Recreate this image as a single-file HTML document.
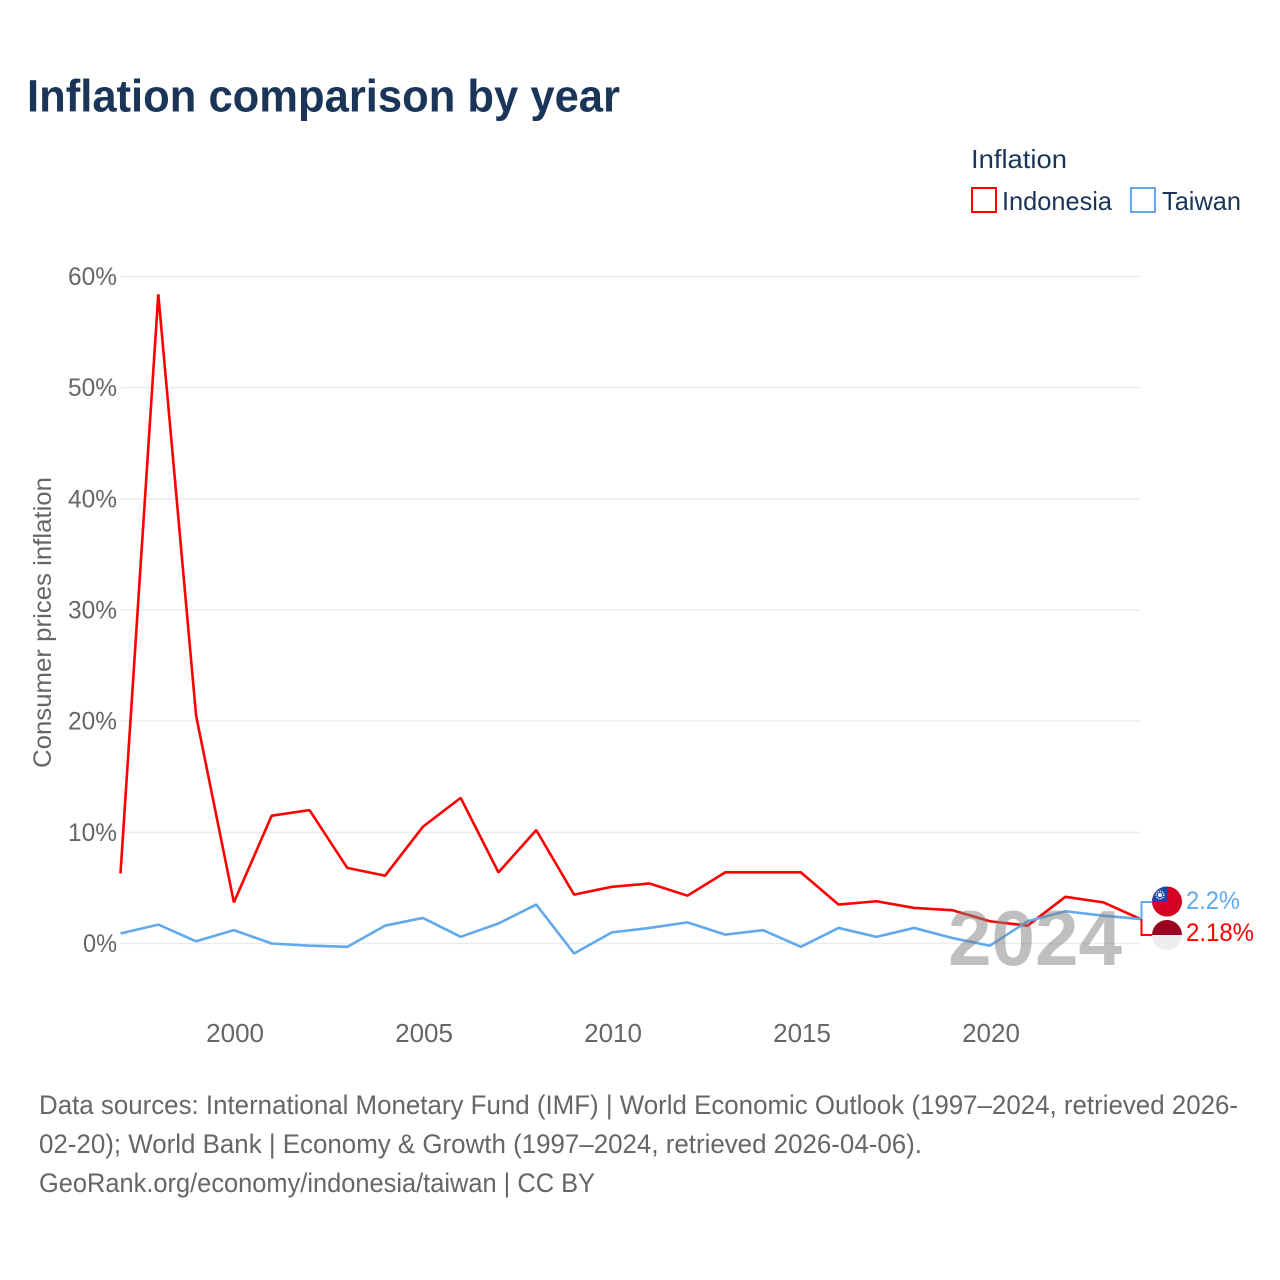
<!DOCTYPE html>
<html lang="en">
<head>
<meta charset="utf-8">
<title>Inflation comparison by year</title>
<style>
html,body{margin:0;padding:0;background:#fff;width:1280px;height:1280px;overflow:hidden}
svg{display:block}
text{font-family:"Liberation Sans",sans-serif}
</style>
</head>
<body>
<svg id="chart" width="1280" height="1280" viewBox="0 0 1280 1280" xmlns="http://www.w3.org/2000/svg">
  <defs>
    <clipPath id="clip-tw"><circle cx="1167" cy="901.5" r="15"/></clipPath>
    <clipPath id="clip-id"><circle cx="1167" cy="935" r="15"/></clipPath>
  </defs>
  <rect x="0" y="0" width="1280" height="1280" fill="#fff"/>
  <text x="27" y="111.5" font-size="45" font-weight="700" fill="#1a3557" textLength="593" lengthAdjust="spacingAndGlyphs">Inflation comparison by year</text>

  <g>
    <text x="971" y="168" font-size="26" fill="#1a3557" textLength="96" lengthAdjust="spacingAndGlyphs">Inflation</text>
    <rect x="972" y="188" width="24" height="24" fill="none" stroke="#ff0000" stroke-width="2"/>
    <text x="1002" y="210" font-size="26" fill="#1a3557" textLength="110" lengthAdjust="spacingAndGlyphs">Indonesia</text>
    <rect x="1131" y="188" width="24" height="24" fill="none" stroke="#62a9ec" stroke-width="2"/>
    <text x="1162" y="210" font-size="26" fill="#1a3557" textLength="79" lengthAdjust="spacingAndGlyphs">Taiwan</text>
  </g>

  <text transform="translate(51,768) rotate(-90)" x="0" y="0" font-size="25" fill="#666" textLength="291" lengthAdjust="spacingAndGlyphs">Consumer prices inflation</text>

  <g id="grid"></g>
  <g id="yticks"></g>
  <g id="xticks"></g>
  <g id="series"></g>

  <text x="948" y="965" font-size="78" font-weight="700" fill="#808080" fill-opacity="0.5" textLength="174" lengthAdjust="spacingAndGlyphs">2024</text>

  <g>
    <polyline points="1141.5,919 1141.5,902 1152,902" fill="none" stroke="#62a9ec" stroke-width="2"/>
    <polyline points="1141.5,919 1141.5,935 1152,935" fill="none" stroke="#ff0000" stroke-width="2"/>
  </g>

  <g clip-path="url(#clip-tw)">
    <rect x="1152" y="886" width="30" height="31" fill="#d50023"/>
    <rect x="1152" y="886" width="15.5" height="16" fill="#1a4aa8"/>
    <circle cx="1160" cy="895" r="3.8" fill="none" stroke="#fff" stroke-width="1.4" stroke-dasharray="1.2 1"/>
    <circle cx="1160" cy="895" r="2" fill="#fff"/>
  </g>
  <g clip-path="url(#clip-id)">
    <rect x="1152" y="920" width="30" height="15" fill="#9c0020"/>
    <rect x="1152" y="935" width="30" height="15" fill="#eeeeee"/>
  </g>

  <text x="1186" y="909" font-size="25" fill="#62a9ec" textLength="54" lengthAdjust="spacingAndGlyphs">2.2%</text>
  <text x="1186" y="941" font-size="25" fill="#ff0000" textLength="68" lengthAdjust="spacingAndGlyphs">2.18%</text>

  <g font-size="27" fill="#666">
    <text x="39" y="1114" textLength="1199" lengthAdjust="spacingAndGlyphs">Data sources: International Monetary Fund (IMF) | World Economic Outlook (1997–2024, retrieved 2026-</text>
    <text x="39" y="1153" textLength="883" lengthAdjust="spacingAndGlyphs">02-20); World Bank | Economy &amp; Growth (1997–2024, retrieved 2026-04-06).</text>
    <text x="39" y="1192" textLength="556" lengthAdjust="spacingAndGlyphs">GeoRank.org/economy/indonesia/taiwan | CC BY</text>
  </g>
</svg>
<script>
const years = [1997,1998,1999,2000,2001,2002,2003,2004,2005,2006,2007,2008,2009,2010,2011,2012,2013,2014,2015,2016,2017,2018,2019,2020,2021,2022,2023,2024];
const indonesia = [6.3,58.4,20.5,3.7,11.5,12.0,6.8,6.1,10.5,13.1,6.4,10.2,4.4,5.1,5.4,4.3,6.4,6.4,6.4,3.5,3.8,3.2,3.0,2.0,1.6,4.2,3.7,2.18];
const taiwan = [0.9,1.7,0.2,1.2,0.0,-0.2,-0.3,1.6,2.3,0.6,1.8,3.5,-0.9,1.0,1.4,1.9,0.8,1.2,-0.3,1.4,0.6,1.4,0.5,-0.2,2.0,2.9,2.5,2.2];
const yTickValues = [0,10,20,30,40,50,60];
const yTickLabels = ['0%','10%','20%','30%','40%','50%','60%'];
const xTickValues = [2000,2005,2010,2015,2020];
const xTickLabels = ['2000','2005','2010','2015','2020'];

const NS = 'http://www.w3.org/2000/svg';
function xScale(year){ return 120.5 + (year - 1997) * (1141 - 120.5) / 27; }
function yScale(v){ return 943.5 - v * (943.5 - 276.5) / 60; }
function make(tag, attrs, parent){
  const el = document.createElementNS(NS, tag);
  for (const k in attrs) el.setAttribute(k, attrs[k]);
  parent.appendChild(el);
  return el;
}
const grid = document.getElementById('grid');
const yticks = document.getElementById('yticks');
const xticks = document.getElementById('xticks');
const series = document.getElementById('series');

yTickValues.forEach(function(v, i){
  const line = make('line', {x1:120.5, x2:1141, y1:yScale(v), y2:yScale(v), stroke:'#ececec', 'stroke-width':1.5}, grid);
  
  
  const label = make('text', {x:117, y:yScale(v)+8.5, 'text-anchor':'end', 'font-size':25, fill:'#666', textLength: yTickLabels[i].length === 2 ? 34 : 49, lengthAdjust:'spacingAndGlyphs'}, yticks);
  label.textContent = yTickLabels[i];
  
  
});

xTickValues.forEach(function(v, i){
  const label = make('text', {x:xScale(v)+1.2, y:1042, 'text-anchor':'middle', 'font-size':26, fill:'#666'}, xticks);
  label.textContent = xTickLabels[i];
  
  
});

function drawLine(values, color, name){
  const pts = values.map(function(v, i){ return xScale(years[i]).toFixed(2) + ',' + yScale(v).toFixed(2); }).join(' ');
  const line = make('polyline', {points:pts, fill:'none', stroke:color, 'stroke-width':2.6, 'stroke-linejoin':'bevel'}, series);
  
  
}
drawLine(indonesia, '#ff0000', 'line-indonesia');
drawLine(taiwan, '#62a9ec', 'line-taiwan');
</script>
</body>
</html>
